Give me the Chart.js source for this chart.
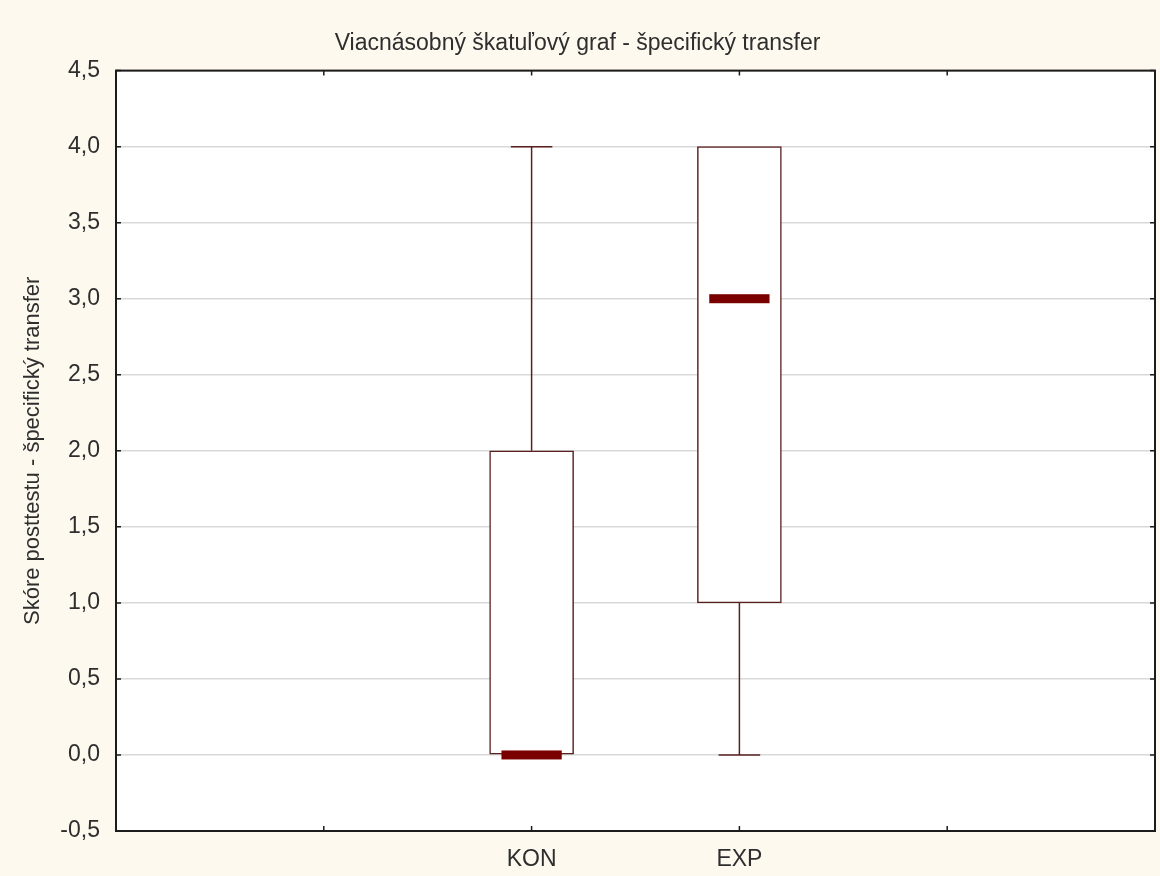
<!DOCTYPE html>
<html lang="sk">
<head>
  <meta charset="UTF-8">
  <title>Viacnásobný škatuľový graf</title>
  <script src="https://cdn.jsdelivr.net/npm/chart.js"></script>
  <style>
    html, body {
      margin: 0;
      padding: 0;
      background: #fdf9ef;
    }
    #wrap {
      width: 1160px;
      height: 876px;
    }
  </style>
</head>
<body>
  <div id="wrap"><canvas id="graf"></canvas></div>

  <script>
// skupiny a ich pozicie na osi x
const skupiny = ['KON', 'EXP'];
const poziciaX = [2, 3];

// statistiky skore posttestu
const minima = [0, 0];
const kvartil1 = [0, 1];
const mediany = [0, 3];
const kvartil3 = [2, 4];
const maxima = [4, 4];

const hodnotyY = [-0.5, 0, 0.5, 1, 1.5, 2, 2.5, 3, 3.5, 4, 4.5];

const FARBA_CIARY = '#5a2020';
const FARBA_MEDIANU = '#7a0000';
const FONT = 'Arial, "Liberation Sans", sans-serif';

// biela plocha grafu
const pozadie = {
  id: 'pozadie',
  beforeDraw(chart) {
    const { ctx, chartArea: a } = chart;
    ctx.save();
    ctx.fillStyle = '#ffffff';
    ctx.fillRect(a.left, a.top, a.right - a.left, a.bottom - a.top);
    ctx.restore();
  }
};

// fuzy, mediany, ramcek a vnutorne ciarky
const krabice = {
  id: 'krabice',
  afterDatasetsDraw(chart) {
    const { ctx, scales: { x, y } } = chart;
    ctx.save();
    poziciaX.forEach((px, i) => {
      const cx = x.getPixelForValue(px);
      const capW = x.getPixelForValue(px + 0.1) - cx;
      const medW = x.getPixelForValue(px + 0.145) - cx;

      ctx.strokeStyle = FARBA_CIARY;
      ctx.lineWidth = 1.5;
      ctx.beginPath();
      // horny fuz
      if (maxima[i] > kvartil3[i]) {
        ctx.moveTo(cx, y.getPixelForValue(kvartil3[i]));
        ctx.lineTo(cx, y.getPixelForValue(maxima[i]));
        ctx.moveTo(cx - capW, y.getPixelForValue(maxima[i]));
        ctx.lineTo(cx + capW, y.getPixelForValue(maxima[i]));
      }
      // dolny fuz
      if (minima[i] < kvartil1[i]) {
        ctx.moveTo(cx, y.getPixelForValue(kvartil1[i]));
        ctx.lineTo(cx, y.getPixelForValue(minima[i]));
        ctx.moveTo(cx - capW, y.getPixelForValue(minima[i]));
        ctx.lineTo(cx + capW, y.getPixelForValue(minima[i]));
      }
      ctx.stroke();

      // median
      ctx.fillStyle = FARBA_MEDIANU;
      const my = y.getPixelForValue(mediany[i]);
      ctx.fillRect(cx - medW, my - 4.5, medW * 2, 9);
    });
    ctx.restore();
  },
  afterDraw(chart) {
    const { ctx, chartArea: a, scales: { x, y } } = chart;
    ctx.save();
    ctx.strokeStyle = '#1c1c1c';
    ctx.lineWidth = 2;
    ctx.strokeRect(a.left, a.top, a.right - a.left, a.bottom - a.top);
    ctx.lineWidth = 1.5;
    ctx.beginPath();
    hodnotyY.forEach(v => {
      const py = y.getPixelForValue(v);
      ctx.moveTo(a.left, py);
      ctx.lineTo(a.left + 5, py);
      ctx.moveTo(a.right, py);
      ctx.lineTo(a.right - 5, py);
    });
    [1, 2, 3, 4].forEach(v => {
      const px = x.getPixelForValue(v);
      ctx.moveTo(px, a.top);
      ctx.lineTo(px, a.top + 5);
      ctx.moveTo(px, a.bottom);
      ctx.lineTo(px, a.bottom - 5);
    });
    ctx.stroke();
    ctx.restore();
  }
};

new Chart(document.getElementById('graf').getContext('2d'), {
  type: 'bar',
  data: {
    datasets: [{
      label: 'Skóre posttestu',
      data: poziciaX.map((px, i) => ({ x: px, y: [kvartil1[i], kvartil3[i]] })),
      backgroundColor: '#ffffff',
      borderColor: FARBA_CIARY,
      borderWidth: 1.5,
      borderSkipped: false,
      barThickness: 84
    }]
  },
  options: {
    responsive: true,
    maintainAspectRatio: false,
    animation: false,
    layout: { padding: { left: 0, right: 5, top: 0, bottom: 0 } },
    plugins: {
      legend: { display: false },
      tooltip: { enabled: false },
      title: {
        display: true,
        text: 'Viacnásobný škatuľový graf - špecifický transfer',
        color: '#2e2e2e',
        font: { family: FONT, size: 23, weight: 'normal' },
        padding: { top: 30, bottom: 13 }
      }
    },
    scales: {
      x: {
        type: 'linear',
        min: 0,
        max: 5,
        offset: false,
        grid: { display: false, offset: false },
        border: { display: false },
        ticks: {
          stepSize: 1,
          color: '#2e2e2e',
          padding: 7,
          font: { family: FONT, size: 23 },
          callback: v => {
            const i = poziciaX.indexOf(v);
            return i >= 0 ? skupiny[i] : '';
          }
        },
        afterFit: s => {
          s.height = 45;
          s.paddingLeft = 0;
          s.paddingRight = 0;
        }
      },
      y: {
        min: -0.5,
        max: 4.5,
        grid: { color: '#d9d9d9', lineWidth: 1.5, drawTicks: false },
        border: { display: false },
        ticks: {
          stepSize: 0.5,
          color: '#2e2e2e',
          padding: 16,
          font: { family: FONT, size: 23 },
          callback: v => v.toFixed(1).replace('.', ',')
        },
        title: {
          display: true,
          text: 'Skóre posttestu - špecifický transfer',
          color: '#2e2e2e',
          font: { family: FONT, size: 22 },
          padding: { top: 20, bottom: 0 }
        },
        afterFit: s => { s.width = 116; }
      }
    }
  },
  plugins: [pozadie, krabice]
});
  </script>
</body>
</html>
